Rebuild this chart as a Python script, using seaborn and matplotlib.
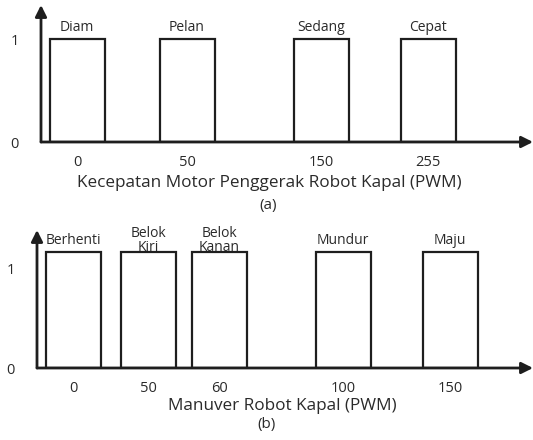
import numpy as np
import matplotlib
matplotlib.use("Agg")
import matplotlib.pyplot as plt
import seaborn as sns

# (a) motor speed levels
speed_labels = ["Diam", "Pelan", "Sedang", "Cepat"]
speed_pwm = ["0", "50", "150", "255"]
speed_vals = [1, 1, 1, 1]

# (b) manoeuvres
move_labels = ["Berhenti", "Belok\nKiri", "Belok\nKanan", "Mundur", "Maju"]
move_pwm = ["0", "50", "60", "100", "150"]
move_vals = [1.16, 1.16, 1.16, 1.16, 1.16]

# layout: slot centres in pixels from the y axis (categories are not to scale)
slots_a = [36, 146, 280, 387]
slots_b = [36, 111, 182, 306, 413]
BAR_PX = 55

sns.set_theme(style="white")
plt.rcParams["font.family"] = ["Open Sans", "DejaVu Sans"]
plt.rcParams["font.weight"] = "medium"

W, H = 533, 440
fig = plt.figure(figsize=(W / 100, H / 100), dpi=100)
INK = "#1e1e1e"
TXT = "#2a2a2a"


def px_axes(left, right, top, bottom):
    return fig.add_axes([left / W, (H - bottom) / H, (right - left) / W, (bottom - top) / H])


def panel(ax, slots, vals, names, pwm, ymax):
    w = BAR_PX / np.diff(slots).min()
    sns.barplot(x=slots, y=vals, native_scale=True, width=w, color="white",
                edgecolor=INK, linewidth=1.6, ax=ax, zorder=2)
    ax.set_xlim(0, ax.get_position().width * W)
    ax.set_ylim(0, ymax)
    for s in ax.spines.values():
        s.set_visible(False)
    ax.set_xticks(slots, pwm)
    ax.set_yticks([0, 1], ["0", "1"])
    ax.tick_params(axis="x", length=0, pad=9, labelsize=10.5, labelcolor=TXT)
    ax.tick_params(axis="y", length=0, pad=16, labelsize=10.5, labelcolor=TXT)
    ax.set_xlabel("")
    ax.set_ylabel("")
    ax.set_facecolor("none")
    arrow = dict(arrowstyle="-|>", lw=2, color=INK, mutation_scale=17,
                 shrinkA=0, shrinkB=0)
    ax.annotate("", xy=(1, 0), xytext=(0, 0), xycoords="axes fraction",
                arrowprops=arrow, zorder=3)
    ax.annotate("", xy=(0, 1), xytext=(0, 0), xycoords="axes fraction",
                arrowprops=arrow, zorder=3)
    for x, v, name in zip(slots, vals, names):
        gap = -2.5 if "\n" in name else 3
        ax.annotate(name, xy=(x, v), xytext=(0, gap), textcoords="offset points",
                    ha="center", va="bottom", fontsize=10, color=TXT,
                    linespacing=0.95)


ax_a = px_axes(41, 533, 5, 142)
panel(ax_a, slots_a, speed_vals, speed_labels, speed_pwm, 137 / 103)
fig.text(269 / W, 1 - 183 / H, "Kecepatan Motor Penggerak Robot Kapal (PWM)",
         ha="center", va="center", fontsize=12.3, color=TXT)
fig.text(268 / W, 1 - 205 / H, "(a)", ha="center", va="center", fontsize=11, color=TXT)

ax_b = px_axes(37, 533, 230, 368)
panel(ax_b, slots_b, move_vals, move_labels, move_pwm, 138 / 100)
fig.text(282 / W, 1 - 406 / H, "Manuver Robot Kapal (PWM)",
         ha="center", va="center", fontsize=12.3, color=TXT)
fig.text(267 / W, 1 - 424 / H, "(b)", ha="center", va="center", fontsize=11, color=TXT)

fig.savefig("out.png", dpi=100, facecolor="white")
